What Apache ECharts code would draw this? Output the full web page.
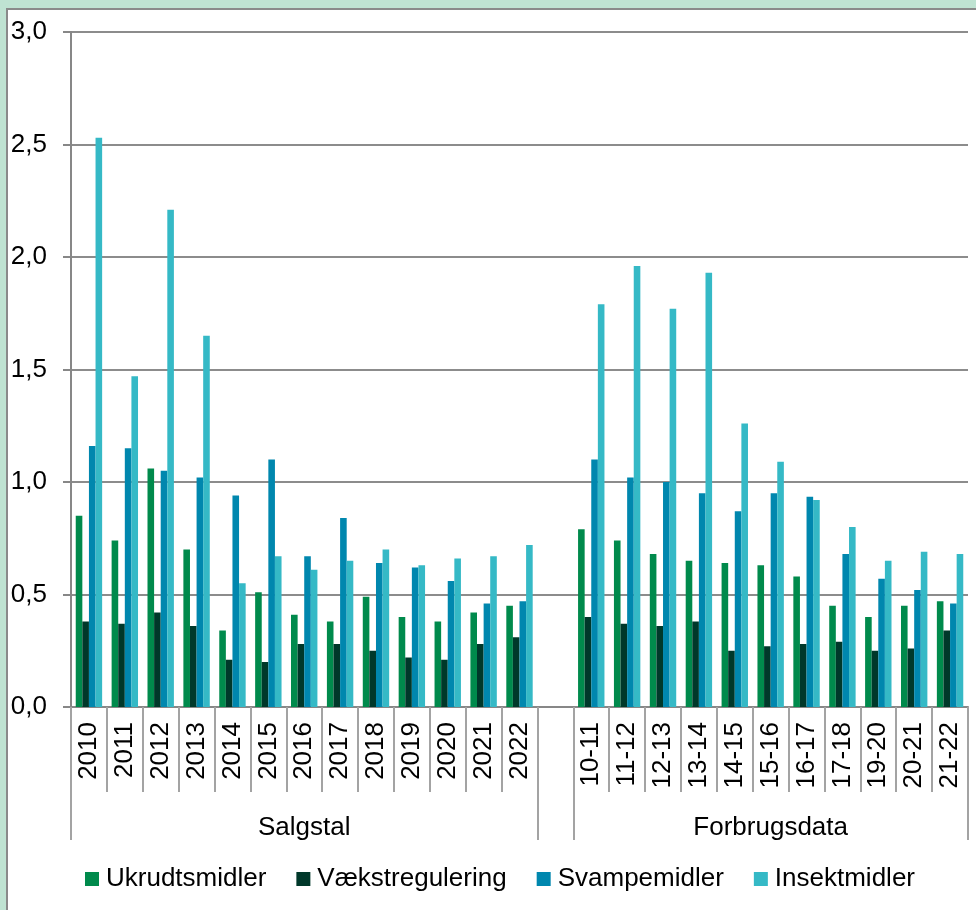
<!DOCTYPE html>
<html>
<head>
<meta charset="utf-8">
<script src="https://cdn.jsdelivr.net/npm/echarts@6/dist/echarts.min.js"></script>
<style>
  html, body { margin: 0; padding: 0; background: #BFE3D2; }
  #frame { position: absolute; left: 6px; top: 8px; width: 970px; height: 902px;
           background: #fff; border-left: 2px solid #8a8a8a; border-top: 2px solid #8a8a8a; box-sizing: border-box; }
  #chart { position: absolute; left: 0; top: 0; width: 976px; height: 910px; }
</style>
</head>
<body>
<div id="frame"></div>
<div id="chart"></div>
<script>
// categories
const salgYears = ['2010', '2011', '2012', '2013', '2014', '2015', '2016', '2017', '2018', '2019', '2020', '2021', '2022']
const forbrugYears = ['10-11', '11-12', '12-13', '13-14', '14-15', '15-16', '16-17', '17-18', '19-20', '20-21', '21-22']
const groupNames = ['Salgstal', 'Forbrugsdata']
const seriesNames = ['Ukrudtsmidler', 'Vækstregulering', 'Svampemidler', 'Insektmidler']
const seriesColors = ['#008A4C', '#00382A', '#0087AE', '#35B9C6']

// Salgstal
const salgUkrudt = [0.85, 0.74, 1.06, 0.70, 0.34, 0.51, 0.41, 0.38, 0.49, 0.40, 0.38, 0.42, 0.45]
const salgVaekst = [0.38, 0.37, 0.42, 0.36, 0.21, 0.20, 0.28, 0.28, 0.25, 0.22, 0.21, 0.28, 0.31]
const salgSvampe = [1.16, 1.15, 1.05, 1.02, 0.94, 1.10, 0.67, 0.84, 0.64, 0.62, 0.56, 0.46, 0.47]
const salgInsekt = [2.53, 1.47, 2.21, 1.65, 0.55, 0.67, 0.61, 0.65, 0.70, 0.63, 0.66, 0.67, 0.72]

// Forbrugsdata
const forbrugUkrudt = [0.79, 0.74, 0.68, 0.65, 0.64, 0.63, 0.58, 0.45, 0.40, 0.45, 0.47]
const forbrugVaekst = [0.40, 0.37, 0.36, 0.38, 0.25, 0.27, 0.28, 0.29, 0.25, 0.26, 0.34]
const forbrugSvampe = [1.10, 1.02, 1.00, 0.95, 0.87, 0.95, 0.935, 0.68, 0.57, 0.52, 0.46]
const forbrugInsekt = [1.79, 1.96, 1.77, 1.93, 1.26, 1.09, 0.92, 0.80, 0.65, 0.69, 0.68]

const yTicks = [0, 0.5, 1.0, 1.5, 2.0, 2.5, 3.0]

const categories = salgYears.concat([''], forbrugYears)
const salgSets = [salgUkrudt, salgVaekst, salgSvampe, salgInsekt]
const forbrugSets = [forbrugUkrudt, forbrugVaekst, forbrugSvampe, forbrugInsekt]

// index where each group is centered, and the boundaries between groups
const salgMid = Math.floor(salgYears.length / 2)
const forbrugStart = salgYears.length + 1
const forbrugMid = forbrugStart + Math.floor(forbrugYears.length / 2)
const groupLabels = categories.map(function (c, i) {
  if (i === salgMid) return groupNames[0]
  if (i === forbrugMid) return groupNames[1]
  return ''
})

const font = 'Liberation Sans, Arial, sans-serif'
const axisGray = '#878787'
const tickGray = '#a3a3a3'

const chart = echarts.init(document.getElementById('chart'), null, { renderer: 'canvas' })

const option = {
  animation: false,
  backgroundColor: 'transparent',
  textStyle: { fontFamily: font, color: '#000' },
  grid: { left: 71, right: 8, top: 32, bottom: 203, containLabel: false },
  legend: {
    left: 85,
    top: 866,
    padding: 0,
    icon: 'rect',
    itemWidth: 14,
    itemHeight: 14,
    itemGap: 30,
    textStyle: { fontFamily: font, fontSize: 26, color: '#000', padding: [0, 0, 0, 2] },
    data: seriesNames
  },
  xAxis: [
    {
      type: 'category',
      data: categories,
      position: 'bottom',
      axisLine: { show: true, lineStyle: { color: axisGray, width: 2 } },
      axisTick: { show: true, length: 85, interval: 0, lineStyle: { color: tickGray, width: 2 } },
      axisLabel: { interval: 0, rotate: 90, margin: 15, fontSize: 26, color: '#000', fontFamily: font },
      splitLine: { show: false }
    },
    {
      type: 'category',
      data: groupLabels,
      position: 'bottom',
      offset: 85,
      axisLine: { show: false },
      axisTick: {
        show: true,
        length: 48,
        interval: function (i) { return i === 0 || i === salgYears.length || i === forbrugStart },
        lineStyle: { color: tickGray, width: 2 }
      },
      axisLabel: {
        interval: function (i) { return i === salgMid || i === forbrugMid },
        margin: 23, fontSize: 26, color: '#000', fontFamily: font
      },
      splitLine: { show: false }
    }
  ],
  yAxis: {
    type: 'value',
    min: yTicks[0],
    max: yTicks[yTicks.length - 1],
    interval: 0.5,
    axisLine: { show: true, lineStyle: { color: axisGray, width: 2 } },
    axisTick: { show: true, length: 8, lineStyle: { color: axisGray, width: 2 } },
    axisLabel: {
      margin: 24,
      fontSize: 26,
      color: '#000',
      fontFamily: font,
      formatter: function (v) { return v.toFixed(1).replace('.', ',') }
    },
    splitLine: { show: true, lineStyle: { color: '#8c8c8c', width: 2 } }
  },
  series: seriesNames.map(function (name, k) {
    return {
      name: name,
      type: 'bar',
      xAxisIndex: 0,
      barWidth: 6.6,
      barGap: '0%',
      itemStyle: { color: seriesColors[k] },
      data: salgSets[k].concat([null], forbrugSets[k])
    }
  })
}

chart.setOption(option)
</script>
</body>
</html>
